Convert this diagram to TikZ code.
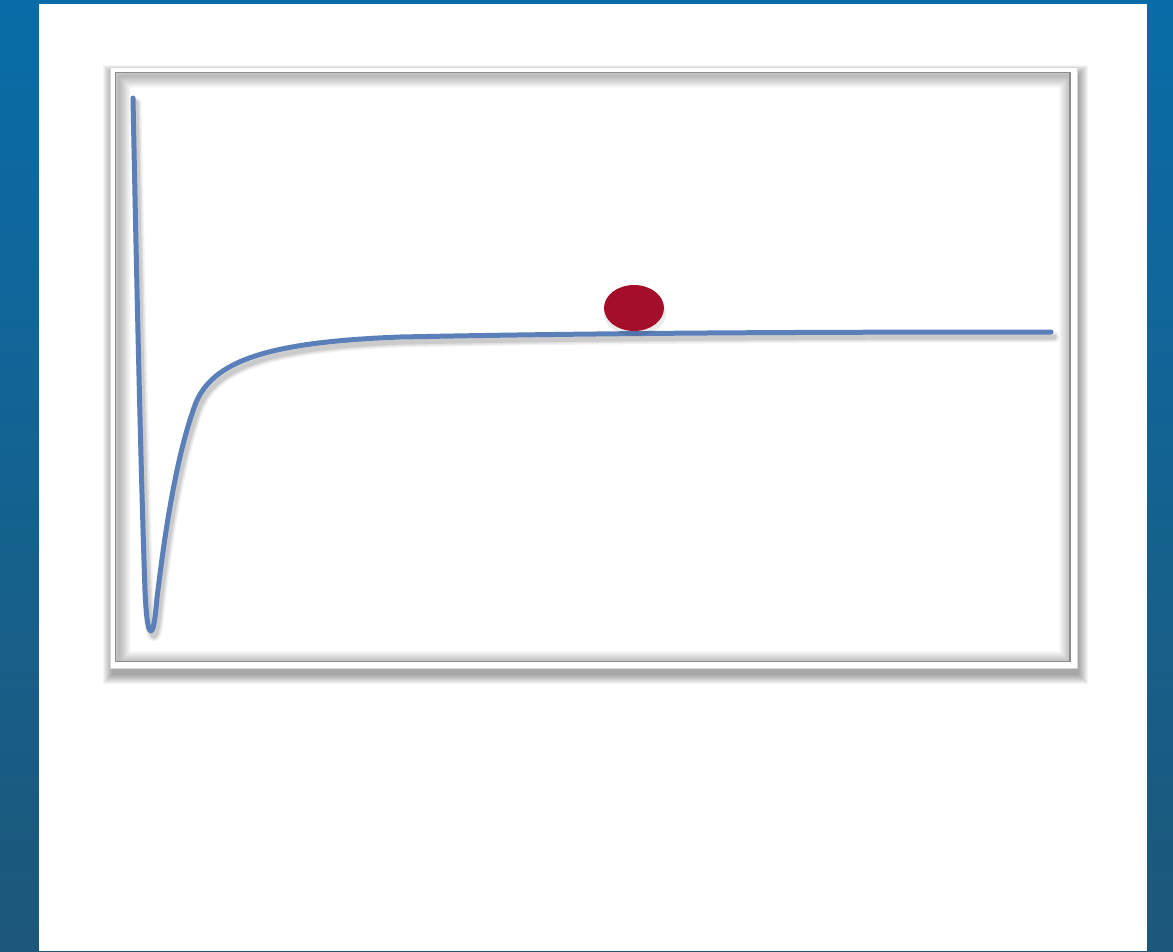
\documentclass[tikz,border=0pt]{standalone}
\usepackage{xcolor}
\usepackage{tikz}
\definecolor{bgtop}{HTML}{0A6CA8}
\definecolor{bgbottom}{HTML}{1D587A}
\definecolor{curveblue}{HTML}{5B80B9}
\definecolor{ballred}{HTML}{A50E2A}
\definecolor{frameline}{HTML}{8C8C8C}
\definecolor{rimline}{HTML}{D6D6D6}

\newcommand{\potcurve}[1]{%
  \draw[#1] (133,98) .. controls (136,250) and (141,480) .. (145,590)
    .. controls (146.5,625) and (149,631) .. (151,631)
    .. controls (153,631) and (155,622) .. (157,598)
    .. controls (164,540) and (175,460) .. (195,405)
    .. controls (212,360) and (270,342) .. (400,337)
    .. controls (600,333) and (800,332) .. (1051,332);}

\begin{document}
\begin{tikzpicture}[
    x=1pt, y=-1pt,
    wellcurve/.style={line width=5pt, color=curveblue, line cap=round, line join=round},
    curveshade/.style={line cap=round, line join=round, black}
]
\useasboundingbox (0,0) rectangle (1173,951);

% background and page
\shade[top color=bgtop, bottom color=bgbottom] (0,0) rectangle (1173,951);
\fill[white] (39,4) rectangle (1147,951);

% drop shadow of the frame
\foreach \r in {9,8,...,0}
  \fill[black, opacity=0.04] (112-\r,74-\r) rectangle (1079+\r,675+\r);

% frame
\fill[white] (110,67) rectangle (1077,668);
\draw[rimline, line width=0.8pt] (110,67) rectangle (1077,668);
\begin{scope}
  \clip (115.5,72.5) rectangle (1070,661.5);
  \foreach \w in {2,4,...,24}
    \draw[black, opacity=0.022, line width=\w pt] (119,76) rectangle (1071,663);
\end{scope}
\draw[frameline, line width=1.5pt] (115.5,72.5) rectangle (1070,661.5);

% potential curve with its shadow
\begin{scope}[shift={(3,5)}]
  \potcurve{curveshade, line width=11pt, opacity=0.05}
  \potcurve{curveshade, line width=8pt, opacity=0.07}
  \potcurve{curveshade, line width=5pt, opacity=0.09}
\end{scope}
\potcurve{wellcurve}

% ball
\fill[black, opacity=0.08] (635,313) ellipse [x radius=31, y radius=23];
\fill[ballred] (634,308) coordinate (ball) ellipse [x radius=30, y radius=23];
\end{tikzpicture}
\end{document}
